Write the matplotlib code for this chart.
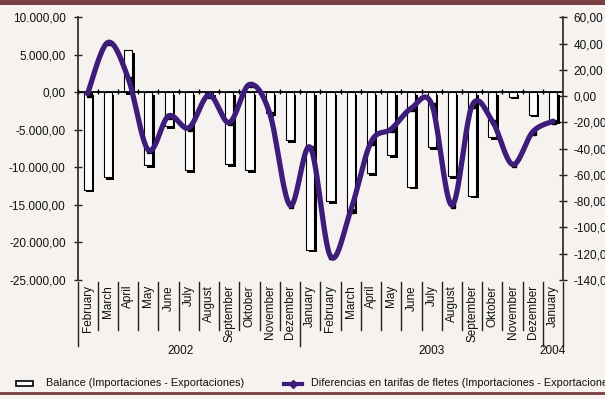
import numpy as np
import matplotlib
matplotlib.use("Agg")
import matplotlib.pyplot as plt
import matplotlib.transforms as mtransforms
from matplotlib.patches import Rectangle
from matplotlib.lines import Line2D
from matplotlib.ticker import FuncFormatter

plt.rcParams['font.family'] = ['Liberation Sans', 'DejaVu Sans']
plt.rcParams['font.size'] = 8.5
plt.rcParams['axes.unicode_minus'] = False

# ---- data -------------------------------------------------------------
months = ["February", "March", "April", "May", "June", "July", "August",
          "September", "Oktober", "November", "Dezember",
          "January", "February", "March", "April", "May", "June", "July",
          "August", "September", "Oktober", "November", "Dezember",
          "January"]
years = ["2002", "2003", "2004"]
year_label_pos = [4.6, 17.0, 23.0]          # label position within each year group
year_bounds = [0, 11, 23, 24]                # group edges (category index)

balance = [-13000, -11300, 5600, -9700, -4500, -10400, -300, -9600, -10400,
           -2800, -6400, -21000, -14500, -15900, -10800, -8400, -12600,
           -7300, -11200, -13800, -6000, -600, -3000, -3900]
freight = [2, 41, 14, -41, -15, -24, 1, -20, 9, -13, -83, -39, -122, -87,
           -35, -25, -9, -6, -83, -7, -19, -52, -27, -19]

left_ticks = list(range(-25000, 10001, 5000))
right_ticks = list(range(-140, 61, 20))

balance_label = "Balance (Importaciones - Exportaciones)"
freight_label = "Diferencias en tarifas de fletes (Importaciones - Exportaciones)"

# ---- style ------------------------------------------------------------
BG = "#F5F2EF"
BANNER = "#7A3E42"
PURPLE = "#3D1C7A"
W, H = 605, 399

fig = plt.figure(figsize=(W / 100, H / 100), dpi=100, facecolor=BG)


def px(x, y):
    """figure-fraction coordinates from pixel position (origin top-left)"""
    return x / W, 1 - y / H


ax_l, ax_r, ax_t, ax_b = 77.5, 563.2, 17.5, 280.0
ax = fig.add_axes([ax_l / W, 1 - ax_b / H, (ax_r - ax_l) / W, (ax_b - ax_t) / H])
ax.patch.set_visible(False)
ax2 = ax.twinx()
ax2.patch.set_visible(False)

n = len(months)
x = np.arange(n)
ax.set_xlim(-0.5, n - 0.5)
ax.set_ylim(-25000, 10000)
ax2.set_ylim(-140, 60)

# bars with a drop shadow
bw = 0.40
sh_x = 0.12
sh_y = 330
ax.bar(x + sh_x, balance, width=bw, bottom=-sh_y, color="black",
       linewidth=0, zorder=2)
ax.bar(x, balance, width=bw, color="white", edgecolor="black",
       linewidth=0.8, zorder=3)

# category axis at zero
ax.axhline(0, color="black", lw=1.3, zorder=4)
ax.vlines(np.arange(n + 1) - 0.5, -250, 450, color="black", lw=1.0, zorder=4)


# smoothed freight line (Catmull-Rom through the monthly values)
def smooth(xv, yv, steps=24):
    xv = np.asarray(xv, float)
    yv = np.asarray(yv, float)
    P = np.column_stack([xv, yv])
    P = np.vstack([P[0], P, P[-1]])
    out = []
    t = np.linspace(0, 1, steps, endpoint=False)[:, None]
    for i in range(1, len(P) - 2):
        p0, p1, p2, p3 = P[i - 1], P[i], P[i + 1], P[i + 2]
        seg = 0.5 * ((2 * p1) + (-p0 + p2) * t +
                     (2 * p0 - 5 * p1 + 4 * p2 - p3) * t ** 2 +
                     (-p0 + 3 * p1 - 3 * p2 + p3) * t ** 3)
        out.append(seg)
    out.append(P[-2][None, :])
    out = np.vstack(out)
    return out[:, 0], out[:, 1]


sx, sy = smooth(x, freight)
shadow = mtransforms.offset_copy(ax2.transData, fig=fig, x=1.0, y=-1.0, units="dots")
ax2.plot(x, freight, ls="none", marker="s", ms=3.5, color="black",
         transform=shadow, zorder=2)
ax2.plot(sx, sy, color=PURPLE, lw=3.8, solid_capstyle="round", zorder=3)

# axes cosmetics
for a in (ax, ax2):
    for s in ("top", "bottom"):
        a.spines[s].set_visible(False)
ax.spines["right"].set_visible(False)
ax2.spines["left"].set_visible(False)
ax.spines["left"].set_color("#333333")
ax.spines["left"].set_linewidth(1.3)
ax2.spines["right"].set_color("#333333")
ax2.spines["right"].set_linewidth(1.3)

ax.set_xticks([])
ax.set_yticks(left_ticks)
ax2.set_yticks(right_ticks)


def fmt_left(v, _):
    s = f"{v:,.2f}"
    return s.replace(",", "X").replace(".", ",").replace("X", ".")


def fmt_right(v, _):
    return f"{v:.2f}".replace(".", ",")


ax.yaxis.set_major_formatter(FuncFormatter(fmt_left))
ax2.yaxis.set_major_formatter(FuncFormatter(fmt_right))
ax.tick_params(axis="y", direction="inout", length=6, width=1.0,
               color="#222222", labelsize=8.5, pad=5.5, labelcolor="#111111")
ax2.tick_params(axis="y", direction="inout", length=6, width=1.0,
                color="#222222", labelsize=8.5, pad=4.3, labelcolor="#111111")

# month / year category labels
tr = mtransforms.blended_transform_factory(ax.transData, fig.transFigure)
for i, m in enumerate(months):
    ax.text(i, 1 - 285 / H, m, rotation=90, ha="center", va="top",
            fontsize=8.5, transform=tr, color="#111111")
for b in range(n + 1):
    long_sep = b in year_bounds
    y1 = 346 if long_sep else 330
    ax.add_line(Line2D([b - 0.5, b - 0.5], [1 - 282 / H, 1 - y1 / H],
                       transform=tr, color="#222222", lw=1.0, clip_on=False))
for lbl, pos in zip(years, year_label_pos):
    ax.text(pos, 1 - 351 / H, lbl, ha="center", va="center", fontsize=8.5,
            transform=tr, color="#111111")

# legend
fig.patches.append(Rectangle(px(16, 386), 17 / W, 5 / H, transform=fig.transFigure,
                             facecolor="white", edgecolor="black", lw=1.2))
fig.text(*px(46, 383.5), balance_label, ha="left", va="center", fontsize=7.8,
         color="#111111")
fig.lines.append(Line2D([284 / W, 302 / W], [1 - 383.5 / H] * 2,
                        transform=fig.transFigure, color=PURPLE, lw=3))
fig.lines.append(Line2D([293 / W], [1 - 384 / H], transform=fig.transFigure,
                        color=PURPLE, marker="D", ms=4, ls="none"))
fig.text(*px(311, 383.5), freight_label, ha="left", va="center", fontsize=7.8,
         color="#111111")

# top banner and bottom rule
fig.patches.append(Rectangle((0, 1 - 5 / H), 1, 5 / H, transform=fig.transFigure,
                             facecolor=BANNER, edgecolor="none"))
fig.lines.append(Line2D([0, 1], [1 - 393 / H] * 2, transform=fig.transFigure,
                        color=BANNER, lw=2))

fig.savefig("out.png", dpi=100, facecolor=BG)
